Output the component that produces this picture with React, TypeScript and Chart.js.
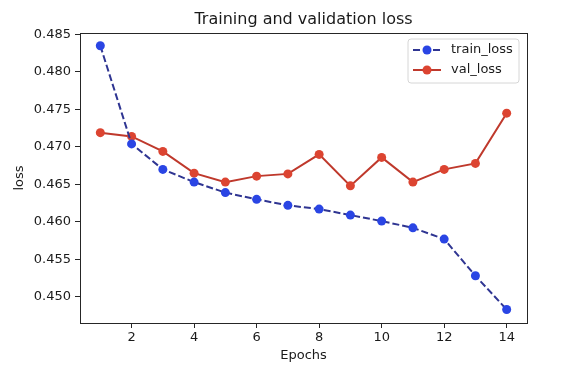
import React, { useEffect, useRef } from "react";
import { Chart, registerables } from "chart.js";

Chart.register(...registerables);

const epochs = [1, 2, 3, 4, 5, 6, 7, 8, 9, 10, 11, 12, 13, 14];
const trainLoss = [0.4835, 0.4704, 0.467, 0.4653, 0.4639, 0.463, 0.4622, 0.4617, 0.4609, 0.4601, 0.4592, 0.4577, 0.4528, 0.4483];
const valLoss = [0.4719, 0.4714, 0.4694, 0.4665, 0.4653, 0.4661, 0.4664, 0.469, 0.4648, 0.4686, 0.4653, 0.467, 0.4678, 0.4745];
const xTicks = [2, 4, 6, 8, 10, 12, 14];
const yTicks = [0.45, 0.455, 0.46, 0.465, 0.47, 0.475, 0.48, 0.485];

const FONT = "'DejaVu Sans', sans-serif";

const spinePlugin = {
  id: "mplSpines",
  afterDatasetsDraw(chart: any) {
    const { ctx, chartArea } = chart;
    ctx.save();
    ctx.strokeStyle = "#262626";
    ctx.lineWidth = 1;
    const l = Math.round(chartArea.left) + 0.5;
    const r = Math.round(chartArea.right) + 0.5;
    const t = Math.round(chartArea.top) + 0.5;
    const b = Math.round(chartArea.bottom) + 0.5;
    ctx.strokeRect(l, t, r - l, b - t);
    ctx.restore();
  },
};

const legendPlugin = {
  id: "mplLegend",
  afterDraw(chart: any) {
    const { ctx, chartArea } = chart;
    const w = 111;
    const h = 44;
    const x0 = chartArea.right - 8 - w;
    const y0 = chartArea.top + 6;
    ctx.save();
    ctx.beginPath();
    const rr = 3;
    ctx.moveTo(x0 + rr, y0);
    ctx.lineTo(x0 + w - rr, y0);
    ctx.quadraticCurveTo(x0 + w, y0, x0 + w, y0 + rr);
    ctx.lineTo(x0 + w, y0 + h - rr);
    ctx.quadraticCurveTo(x0 + w, y0 + h, x0 + w - rr, y0 + h);
    ctx.lineTo(x0 + rr, y0 + h);
    ctx.quadraticCurveTo(x0, y0 + h, x0, y0 + h - rr);
    ctx.lineTo(x0, y0 + rr);
    ctx.quadraticCurveTo(x0, y0, x0 + rr, y0);
    ctx.closePath();
    ctx.fillStyle = "rgba(255,255,255,0.8)";
    ctx.fill();
    ctx.strokeStyle = "#d6d6d6";
    ctx.lineWidth = 1;
    ctx.stroke();
    chart.data.datasets.forEach((ds: any, i: number) => {
      const cy = y0 + 11 + i * 20;
      ctx.beginPath();
      ctx.setLineDash(ds.borderDash || []);
      ctx.strokeStyle = ds.borderColor;
      ctx.lineWidth = 2;
      ctx.moveTo(x0 + 5, cy);
      ctx.lineTo(x0 + 33, cy);
      ctx.stroke();
      ctx.setLineDash([]);
      ctx.beginPath();
      ctx.arc(x0 + 19, cy, 4.5, 0, Math.PI * 2);
      ctx.fillStyle = ds.pointBackgroundColor;
      ctx.fill();
      ctx.fillStyle = "#1a1a1a";
      ctx.font = `13px ${FONT}`;
      ctx.textBaseline = "middle";
      ctx.textAlign = "left";
      ctx.fillText(ds.label, x0 + 43, cy);
    });
    ctx.restore();
  },
};

export default function App() {
  const ref = useRef<HTMLCanvasElement | null>(null);

  useEffect(() => {
    if (!ref.current) return;
    const chart = new Chart(ref.current, {
      type: "line",
      data: {
        datasets: [
          {
            label: "train_loss",
            data: epochs.map((e, i) => ({ x: e, y: trainLoss[i] })),
            borderColor: "#2f3592",
            borderWidth: 2,
            borderDash: [7, 3],
            pointBackgroundColor: "#2a45e4",
            pointBorderColor: "#2a45e4",
            pointBorderWidth: 0,
            pointRadius: 4.5,
            tension: 0,
          },
          {
            label: "val_loss",
            data: epochs.map((e, i) => ({ x: e, y: valLoss[i] })),
            borderColor: "#bf392c",
            borderWidth: 2,
            pointBackgroundColor: "#dc4431",
            pointBorderColor: "#dc4431",
            pointBorderWidth: 0,
            pointRadius: 4.5,
            tension: 0,
          },
        ],
      },
      options: {
        responsive: false,
        animation: false,
        devicePixelRatio: 1,
        layout: { padding: { left: 0, right: 61, top: 0, bottom: 0 } },
        plugins: {
          legend: { display: false },
          tooltip: { enabled: false },
          title: {
            display: true,
            text: "Training and validation loss",
            fullSize: false,
            color: "#1a1a1a",
            font: { family: FONT, size: 16, weight: "normal" },
            padding: { top: 10, bottom: 3.8 },
          },
        },
        scales: {
          x: {
            type: "linear",
            min: 0.35,
            max: 14.65,
            afterBuildTicks: (s: any) => {
              s.ticks = xTicks.map((v) => ({ value: v }));
            },
            afterFit: (s: any) => {
              s.height = 52;
            },
            grid: { drawOnChartArea: false, drawTicks: true, tickLength: 5, color: "#262626" },
            border: { display: false },
            ticks: {
              color: "#1a1a1a",
              font: { family: FONT, size: 13 },
              padding: 2,
              maxRotation: 0,
              autoSkip: false,
              callback: (v: any) => String(v),
            },
            title: {
              display: true,
              text: "Epochs",
              color: "#1a1a1a",
              font: { family: FONT, size: 13 },
              padding: { top: 0, bottom: 12 },
            },
          },
          y: {
            type: "linear",
            min: 0.4465,
            max: 0.4852,
            afterBuildTicks: (s: any) => {
              s.ticks = yTicks.map((v) => ({ value: v }));
            },
            afterFit: (s: any) => {
              s.width = 80;
            },
            grid: { drawOnChartArea: false, drawTicks: true, tickLength: 5, color: "#262626" },
            border: { display: false },
            ticks: {
              color: "#1a1a1a",
              font: { family: FONT, size: 13 },
              padding: 4,
              autoSkip: false,
              callback: (v: any) => Number(v).toFixed(3),
            },
            title: {
              display: true,
              text: "loss",
              color: "#1a1a1a",
              font: { family: FONT, size: 13 },
              padding: { top: 12, bottom: 0 },
            },
          },
        },
      },
      plugins: [spinePlugin, legendPlugin],
    });
    return () => chart.destroy();
  }, []);

  return (
    <div style={{ position: "fixed", left: 0, top: 0, width: 588, height: 375, background: "#fff" }}>
      <canvas ref={ref} width={588} height={375} style={{ width: 588, height: 375, display: "block" }} />
    </div>
  );
}
